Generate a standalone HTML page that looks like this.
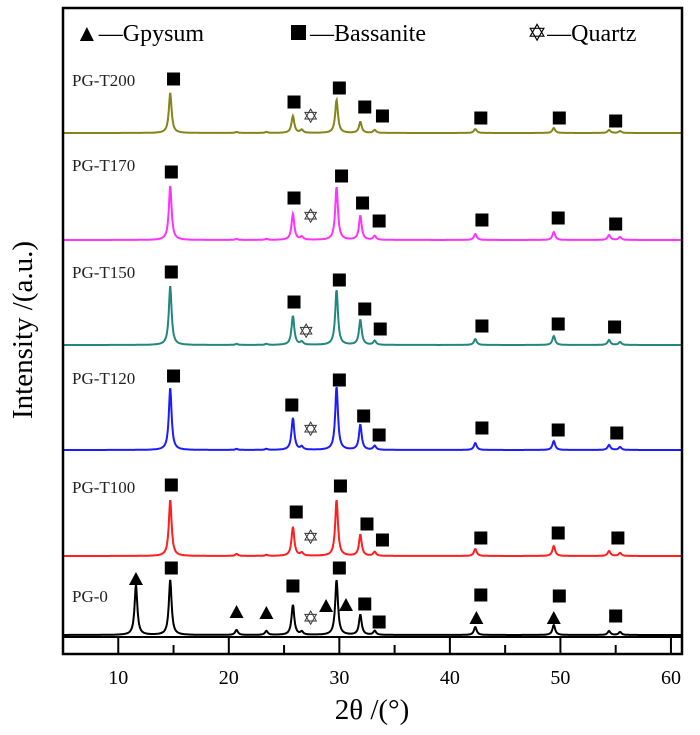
<!DOCTYPE html>
<html><head><meta charset="utf-8"><style>
body{margin:0;background:#fff}
svg{display:block;font-family:"Liberation Serif",serif}
</style></head><body>
<svg id="c" width="700" height="735" viewBox="0 0 700 735"></svg>
<script>
const sampleNames=["PG-0","PG-T100","PG-T120","PG-T150","PG-T170","PG-T200"];
const sampleColors=["#000000","#ff1f1f","#1c1cff","#22877f","#ff33ff","#85851a"];
const baselines=[635,556,450,345,240,133];
const peakPos=[11.6,14.7,20.7,23.4,25.8,26.6,29.75,31.9,33.2,42.3,49.4,54.4,55.4];
const pg0=[50,55,5,4,30,3,55,20,4,8,10,4,3];
const t100=[0,56,2,1,29,3,56,21,4,7,10,5,3];
const t120=[0,62,1,1,32,3,63,25,4,7,9,5,3];
const t150=[0,59,1,1,29,3,55,25,4,6,9,5,3];
const t170=[0,54,1,1,26,3,53,24,4,6,8,5,3];
const t200=[0,40,1,1,17,3,33,11,3,4,5,3,2];
const seriesValues=[pg0,t100,t120,t150,t170,t200];
const xTicks=[10,20,30,40,50,60];
const labelY=[602,493,384,278,171,86];
const markers=[
 [["t",11.6,56],["s",14.8,67],["t",20.7,23],["t",23.4,22],["s",25.8,49],["q",27.4,17],["s",30,67],["t",28.8,29],["t",30.6,30],["s",32.3,31],["s",33.6,13],["t",42.4,17],["s",42.8,40],["t",49.4,17],["s",49.9,39],["s",55.0,19]],
 [["s",14.8,71],["s",26.1,44],["q",27.4,19],["s",30.1,70],["s",32.5,32],["s",33.9,16],["s",42.8,18],["s",49.8,23],["s",55.2,18]],
 [["s",15.0,74],["s",25.7,45],["q",27.4,21],["s",30.0,70],["s",32.2,34],["s",33.6,15],["s",42.9,22],["s",49.8,20],["s",55.1,17]],
 [["s",14.8,73],["s",25.9,43],["q",27.0,14],["s",30.0,65],["s",32.3,36],["s",33.7,16],["s",42.9,19],["s",49.8,21],["s",54.9,18]],
 [["s",14.8,68],["s",25.9,42],["q",27.4,24],["s",30.2,64],["s",32.1,37],["s",33.6,19],["s",42.9,20],["s",49.8,22],["s",55.0,16]],
 [["s",15.0,54],["s",25.9,31],["q",27.4,17],["s",30.0,45],["s",32.3,26],["s",33.9,17],["s",42.8,15],["s",49.9,15],["s",55.0,12]]
];
const NS="http://www.w3.org/2000/svg";
const svg=document.getElementById("c");
const X0=5,X1=61,L=63,R=682,T=8,B=654;
const sx=d=>L+(d-X0)*(R-L)/(X1-X0);
function mk(tag,attrs,parent){const e=document.createElementNS(NS,tag);for(const k in attrs)e.setAttribute(k,attrs[k]);(parent||svg).appendChild(e);return e;}
seriesValues.forEach((vals,i)=>{
  let d="";
  for(let x=X0;x<=X1+0.001;x+=0.04){
    let y=0;
    vals.forEach((h,j)=>{const w=0.15;y+=h/(1+Math.pow((x-peakPos[j])/w,2));});
    d+=(d?"L":"M")+sx(x).toFixed(1)+","+(baselines[i]-y).toFixed(1);
  }
  const p=mk("path",{d:d,fill:"none",stroke:sampleColors[i],"stroke-width":2});
  
  
  const t=mk("text",{x:72,y:labelY[i],"font-size":17,fill:"#222"});
  t.textContent=sampleNames[i];
  
  
  markers[i].forEach(m=>{
    const cx=sx(m[1]),cy=baselines[i]-m[2];
    let e;
    if(m[0]==="s"){e=mk("rect",{x:cx-6.5,y:cy-6.5,width:13,height:13,fill:"#000"});}
    else if(m[0]==="t"){e=mk("polygon",{points:`${cx},${cy-7} ${cx-7},${cy+6} ${cx+7},${cy+6}`,fill:"#000"});}
    else{e=mk("text",{x:cx,y:cy+7,"font-size":20,"text-anchor":"middle",fill:"#333"});e.textContent="✡";}
    
  });
});
const fr=mk("rect",{x:L,y:T,width:R-L,height:B-T,fill:"none",stroke:"#000","stroke-width":2.5});

const inner=mk("line",{x1:L,x2:R,y1:637,y2:637,stroke:"#000","stroke-width":2});

for(let d=10;d<=60;d+=5){
  const major=d%10===0;
  const tk=mk("line",{x1:sx(d),x2:sx(d),y1:major?637:645,y2:B,stroke:"#000","stroke-width":2});
  
}
xTicks.forEach(v=>{
  const t=mk("text",{x:sx(v),y:684,"font-size":20,"text-anchor":"middle"});
  t.textContent=v;
  
});
</script>
<script>
(function(){
const svg=document.getElementById("c");const NS="http://www.w3.org/2000/svg";
function tx(x,y,s,str,extra){const t=document.createElementNS(NS,"text");t.setAttribute("x",x);t.setAttribute("y",y);t.setAttribute("font-size",s);if(extra)for(const k in extra)t.setAttribute(k,extra[k]);t.textContent=str;svg.appendChild(t);return t;}
let e=tx(372,719,29,"2θ /(°)",{"text-anchor":"middle"});

e=tx(0,0,29,"Intensity /(a.u.)",{"text-anchor":"middle",transform:"translate(32,330) rotate(-90)"});

e=tx(75,41,24,"▲—Gpysum");

const sq=document.createElementNS(NS,"rect");sq.setAttribute("x",291);sq.setAttribute("y",25);sq.setAttribute("width",15);sq.setAttribute("height",15);sq.setAttribute("fill","#000");svg.appendChild(sq);

e=tx(310,41,24,"—Bassanite");

e=tx(527,41,24,"✡—Quartz");

})();
</script>
</body></html>
